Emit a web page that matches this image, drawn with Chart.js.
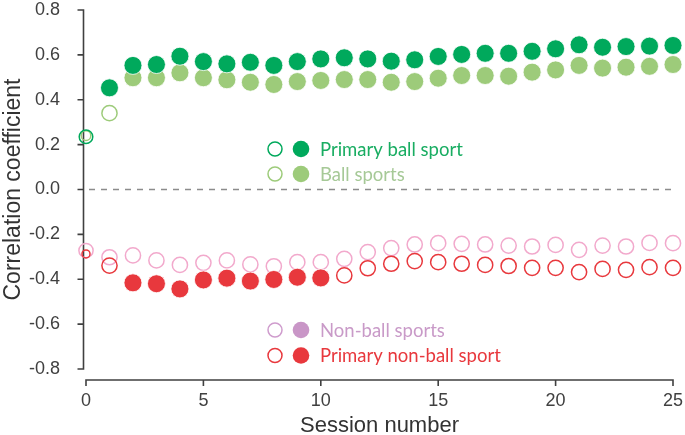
<!DOCTYPE html>
<html><head><meta charset="utf-8">
<script src="https://cdn.jsdelivr.net/npm/chart.js@4/dist/chart.umd.min.js"></script>
<style>html,body{margin:0;padding:0;background:#fff;}#wrap{width:685px;height:435px;}</style>
</head><body><div id="wrap"><canvas id="c" width="685" height="435"></canvas></div>
<script>
// ---- data ----
const sessions = [0,1,2,3,4,5,6,7,8,9,10,11,12,13,14,15,16,17,18,19,20,21,22,23,24,25];
const primaryBall = [0.235,0.453,0.553,0.557,0.594,0.570,0.560,0.567,0.553,0.570,0.582,0.587,0.582,0.572,0.578,0.593,0.602,0.607,0.607,0.616,0.627,0.645,0.634,0.637,0.639,0.642];
const ballSports = [0.240,0.340,0.498,0.498,0.520,0.498,0.489,0.478,0.468,0.481,0.486,0.490,0.490,0.478,0.481,0.496,0.508,0.508,0.505,0.523,0.533,0.553,0.541,0.545,0.549,0.557];
const nonBall = [-0.272,-0.302,-0.294,-0.316,-0.336,-0.327,-0.316,-0.334,-0.342,-0.324,-0.324,-0.309,-0.279,-0.261,-0.245,-0.239,-0.242,-0.245,-0.250,-0.254,-0.247,-0.269,-0.250,-0.254,-0.238,-0.239];
const primaryNonBall = [-0.287,-0.339,-0.416,-0.420,-0.443,-0.403,-0.395,-0.408,-0.401,-0.391,-0.394,-0.383,-0.351,-0.331,-0.319,-0.324,-0.331,-0.336,-0.341,-0.349,-0.349,-0.368,-0.354,-0.358,-0.346,-0.349];
// 1 = filled marker, 0 = open marker
const primaryBallSolid = [0,1,1,1,1,1,1,1,1,1,1,1,1,1,1,1,1,1,1,1,1,1,1,1,1,1];
const ballSportsSolid = [0,0,1,1,1,1,1,1,1,1,1,1,1,1,1,1,1,1,1,1,1,1,1,1,1,1];
const nonBallSolid = [0,0,0,0,0,0,0,0,0,0,0,0,0,0,0,0,0,0,0,0,0,0,0,0,0,0];
const primaryNonBallSolid = [0,0,1,1,1,1,1,1,1,1,1,0,0,0,0,0,0,0,0,0,0,0,0,0,0,0];
const seriesNames = ['Primary ball sport','Ball sports','Non-ball sports','Primary non-ball sport'];
const xTickValues = [0,5,10,15,20,25];
const xTickLabels = ['0','5','10','15','20','25'];
const yTickValues = [-0.8,-0.6,-0.4,-0.2,0,0.2,0.4,0.6,0.8];
const yTickLabels = ['-0.8','-0.6','-0.4','-0.2','0.0','0.2','0.4','0.6','0.8'];

// ---- styles ----
const C_DG = '#00a95c', C_LG = '#9dcb7a', C_PK = '#f2a9cc', C_RD = '#e8383d', C_PKF = '#c996c7';
const AXIS = '#404040';

function makeSet(label, vals, solid, color, firstR){
  return {
    label, showLine:false, clip:false,
    data: sessions.map((s,i)=>({x:s, y:vals[i]})),
    pointRadius: c => solid[c.dataIndex] ? 9 : (c.dataIndex===0 ? firstR : 7.6),
    pointHoverRadius: c => solid[c.dataIndex] ? 9 : (c.dataIndex===0 ? firstR : 7.6),
    pointBackgroundColor: c => solid[c.dataIndex] ? color : 'rgba(0,0,0,0)',
    pointBorderColor: c => solid[c.dataIndex] ? '#ffffff' : color,
    pointBorderWidth: c => solid[c.dataIndex] ? 0.8 : 1.5
  };
}

function zeroPad(s){ s.paddingTop=0; s.paddingBottom=0; s.paddingLeft=0; s.paddingRight=0; }

const axesPlugin = {
  id:'axesPlugin',
  beforeDatasetsDraw(chart){
    const {ctx, scales:{x,y}} = chart;
    const y0 = y.getPixelForValue(0);
    const xa = x.getPixelForValue(xTickValues[0]), xb = x.getPixelForValue(xTickValues[xTickValues.length-1]);
    ctx.save();
    ctx.strokeStyle='#8c8c8c'; ctx.lineWidth=1.5; ctx.setLineDash([6,6]);
    ctx.beginPath(); ctx.moveTo(xa+3, y0); ctx.lineTo(xb, y0); ctx.stroke();
    ctx.restore();
    ctx.save();
    ctx.strokeStyle=AXIS; ctx.lineWidth=1.6; ctx.lineCap='butt';
    const ax = x.left - 2.5;
    ctx.beginPath();
    ctx.moveTo(ax, y.getPixelForValue(yTickValues[yTickValues.length-1])-0.8);
    ctx.lineTo(ax, y.getPixelForValue(yTickValues[0])+0.8);
    yTickValues.forEach(v=>{const py=y.getPixelForValue(v); ctx.moveTo(ax-6,py); ctx.lineTo(ax,py);});
    const ay = y.bottom + 11;
    ctx.moveTo(xa-0.8, ay); ctx.lineTo(xb+0.8, ay);
    xTickValues.forEach(v=>{const px=x.getPixelForValue(v); ctx.moveTo(px,ay); ctx.lineTo(px,ay+6);});
    ctx.stroke();
    ctx.restore();
  },
  afterDatasetsDraw(chart){
    const {ctx} = chart;
    const rows = [
      {name:seriesNames[0], color:C_DG, open:C_DG, text:'#19ad62', cy:149},
      {name:seriesNames[1], color:C_LG, open:C_LG, text:'#a6c997', cy:174},
      {name:seriesNames[2], color:C_PKF, open:'#cf9ccd', text:'#c99ac8', cy:330},
      {name:seriesNames[3], color:C_RD, open:C_RD, text:'#e8383d', cy:355.5}
    ];
    ctx.save();
    rows.forEach(r=>{
      ctx.beginPath(); ctx.arc(275, r.cy, 7, 0, Math.PI*2);
      ctx.strokeStyle=r.open; ctx.lineWidth=1.5; ctx.stroke();
      ctx.beginPath(); ctx.arc(301, r.cy, 8.3, 0, Math.PI*2);
      ctx.fillStyle=r.color; ctx.fill();
      ctx.fillStyle=r.text; ctx.font='18.5px Lato'; ctx.textBaseline='alphabetic'; ctx.textAlign='left';
      ctx.fillText(r.name, 320, r.cy+6.6);
    });
    ctx.restore();
  }
};

new Chart(document.getElementById('c'), {
  type:'scatter',
  data:{ datasets:[
    makeSet(seriesNames[0], primaryBall, primaryBallSolid, C_DG, 6.8),
    makeSet(seriesNames[1], ballSports, ballSportsSolid, C_LG, 4.8),
    makeSet(seriesNames[3], primaryNonBall, primaryNonBallSolid, C_RD, 4.0),
    makeSet(seriesNames[2], nonBall, nonBallSolid, C_PK, 7.1)
  ]},
  options:{
    responsive:false, animation:false, devicePixelRatio:1,
    layout:{padding:{top:10,right:12,left:0,bottom:0}},
    plugins:{legend:{display:false}, tooltip:{enabled:false}},
    scales:{
      x:{ type:'linear', min:0, max:25,
        afterFit: s => { s.height = 66; zeroPad(s); },
        afterBuildTicks: s => { s.ticks = xTickValues.map(v=>({value:v})); },
        grid:{display:false}, border:{display:false},
        ticks:{ padding:13, color:AXIS, font:{family:'"Liberation Sans", Arial, sans-serif', size:18},
          callback: v => xTickLabels[xTickValues.indexOf(v)] },
        title:{ display:true, text:'Session number', color:'#333333', padding:{top:0,bottom:-4},
          font:{family:'"Liberation Sans", Arial, sans-serif', size:22} }
      },
      y:{ type:'linear', min:-0.8, max:0.8,
        afterFit: s => { s.width = 86; zeroPad(s); },
        afterBuildTicks: s => { s.ticks = yTickValues.map(v=>({value:v})); },
        grid:{display:false}, border:{display:false},
        ticks:{ padding:18, color:AXIS, font:{family:'"Liberation Sans", Arial, sans-serif', size:18},
          callback: (v,i) => yTickLabels[i] },
        title:{ display:true, text:'Correlation coefficient', color:'#333333', padding:{top:0,bottom:0},
          font:{family:'"Liberation Sans", Arial, sans-serif', size:23} }
      }
    }
  },
  plugins:[axesPlugin]
});
</script></body></html>
